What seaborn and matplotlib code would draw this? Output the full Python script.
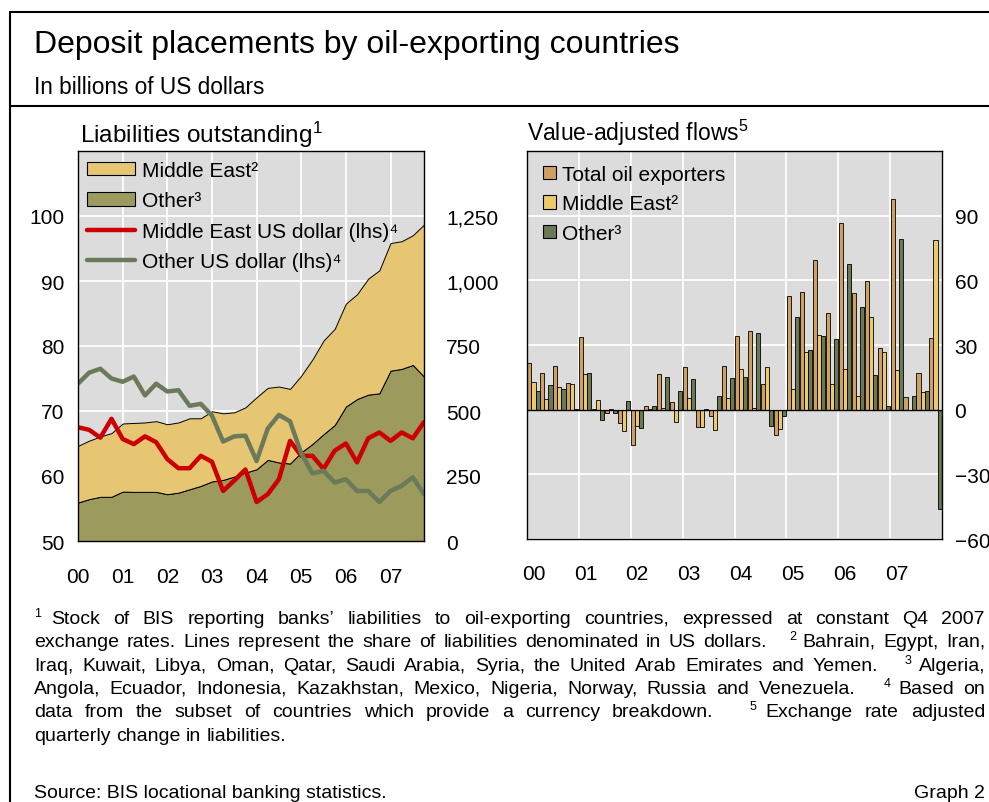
import matplotlib
matplotlib.use("Agg")

import numpy as np
import pandas as pd
import matplotlib.pyplot as plt
import seaborn as sns
from matplotlib.patches import Patch
from matplotlib.lines import Line2D
from matplotlib.ticker import FuncFormatter

# ---- data ----
years = ["00", "01", "02", "03", "04", "05", "06", "07"]
quarters = [f"{y}Q{q}" for y in years for q in range(1, 5)]

# stock of liabilities, billions USD (rhs of left panel)
other_stock = [148, 161, 170, 170, 190, 189, 189, 189, 180, 186, 199, 212, 229, 235, 248, 263,
               276, 312, 302, 298, 341, 373, 411, 446, 517, 546, 563, 568, 655, 662, 677, 632]
me_stock = [218, 225, 232, 245, 262, 265, 267, 272, 269, 270, 273, 260, 270, 256, 247, 251,
            277, 277, 292, 287, 295, 325, 360, 370, 396, 403, 446, 473, 491, 491, 499, 585]

# US dollar shares, per cent (lhs of left panel)
me_usd = [67.5, 67.1, 65.9, 68.8, 65.7, 64.9, 66.1, 65.2, 62.6, 61.2, 61.2, 63.1, 62.2, 57.7, 59.3, 61.0,
          56.0, 57.2, 59.5, 65.4, 63.1, 63.1, 61.1, 63.9, 65.0, 62.1, 65.8, 66.7, 65.4, 66.7, 65.8, 68.3]
other_usd = [74.2, 75.9, 76.5, 75.0, 74.5, 75.3, 72.4, 74.2, 73.0, 73.2, 70.8, 71.1, 69.3, 65.3, 66.1, 66.2,
             62.3, 67.3, 69.4, 68.4, 63.5, 60.4, 60.8, 59.0, 59.5, 57.7, 57.7, 56.0, 57.7, 58.5, 59.8, 57.2]

# value-adjusted flows, billions USD
flow_total = [21.7, 16.9, 20.4, 12.5, 33.6, 0.3, -1.5, -6.2, -16.3, 1.9, 16.6, 3.4, 19.8, -8.0, -2.8, 20.4,
              34.4, 36.7, 12.1, -11.6, 52.8, 54.6, 69.3, 44.9, 86.7, 54.3, 59.6, 28.6, 97.8, 5.9, 17.0, 33.1]
flow_me = [12.7, 5.1, 10.5, 11.9, 16.4, 4.6, 0.2, -10.0, -7.7, 0.2, 0.9, -5.6, 5.6, -8.0, -9.6, 5.6,
           19.0, 0.9, 19.7, -8.8, 9.4, 26.6, 34.7, 11.9, 18.9, 6.3, 43.2, 26.8, 18.3, -0.3, 8.4, 78.8]
flow_other = [8.5, 11.3, 9.6, 0.5, 17.2, -5.0, -1.5, 4.0, -8.4, 1.9, 15.0, 8.7, 14.1, 0.2, 6.3, 14.7,
              15.0, 35.4, -7.7, -3.1, 43.2, 27.7, 34.4, 32.8, 67.6, 47.8, 16.3, 1.7, 79.4, 6.2, 8.5, -46.0]

series_names = ["Total oil exporters", "Middle East²", "Other³"]

# ---- style ----
sns.set_style("white")
plt.rcParams["font.family"] = ["Liberation Sans", "DejaVu Sans"]
plt.rcParams["mathtext.fontset"] = "custom"
plt.rcParams["mathtext.rm"] = "Liberation Sans"
plt.rcParams["mathtext.it"] = "Liberation Sans:italic"
plt.rcParams["mathtext.bf"] = "Liberation Sans:bold"
for k in ["text.color", "axes.labelcolor", "xtick.color", "ytick.color"]:
    plt.rcParams[k] = "black"

bg = "#DCDCDC"
c_me_area, c_oth_area = "#E6C573", "#9C9A5C"
c_red, c_gray = "#CC0000", "#6B7A5A"
c_tot, c_me, c_oth = "#CFA064", "#EBC96E", "#6A7854"
FS = 15

W, H = 989, 803
fig = plt.figure(figsize=(W / 100, H / 100), dpi=100)


def fx(x):
    return x / W


def fy(y):
    return 1 - y / H


# frame lines
fig.add_artist(Line2D([fx(10), fx(10)], [0, fy(13)], color="black", lw=1.5))
fig.add_artist(Line2D([fx(10), 1], [fy(13), fy(13)], color="black", lw=1.5))
fig.add_artist(Line2D([fx(10), 1], [fy(107), fy(107)], color="black", lw=1.5))

fig.text(fx(34), fy(45), "Deposit placements by oil-exporting countries", fontsize=23, va="center")
fig.text(fx(34), fy(87), "In billions of US dollars", fontsize=16.3, va="center")

# ---- left panel: liabilities outstanding ----
idx = np.arange(len(quarters))
ax_l = fig.add_axes([fx(78), fy(542), fx(346), 390 / H])
ax_a = ax_l.twinx()
ax_l.set_zorder(ax_a.get_zorder() + 1)
ax_l.patch.set_visible(False)
ax_a.patch.set_visible(True)
ax_a.set_facecolor(bg)
ax_a.xaxis.set_visible(True)

ax_a.stackplot(idx, other_stock, me_stock, colors=[c_oth_area, c_me_area],
               edgecolor="black", linewidth=0.7)
sns.lineplot(x=idx, y=me_usd, ax=ax_l, color=c_red, linewidth=3.2)
sns.lineplot(x=idx, y=other_usd, ax=ax_l, color=c_gray, linewidth=3.2)

ax_l.set_xlim(0, 31)
ax_l.set_ylim(50, 110)
ax_a.set_ylim(0, 1500)
ax_l.set_yticks([50, 60, 70, 80, 90, 100])
ax_a.set_yticks([0, 250, 500, 750, 1000, 1250])
ax_a.yaxis.set_major_formatter(FuncFormatter(lambda v, p: f"{int(v):,}"))
ax_l.set_xticks(idx[::4])
ax_l.set_xticklabels(years)
ax_a.set_axisbelow(True)
ax_a.grid(True, color="white", linewidth=1.3)
ax_l.grid(False)
ax_a.tick_params(axis="x", labelbottom=False, length=0)
ax_a.tick_params(axis="y", length=0, labelsize=FS, pad=16)
ax_l.tick_params(axis="y", length=0, labelsize=FS, pad=10)
ax_l.tick_params(axis="x", length=0, labelsize=FS, pad=19)
for s in ax_a.spines.values():
    s.set_visible(False)
for s in ax_l.spines.values():
    s.set_visible(True)
    s.set_color("black")
    s.set_linewidth(1.0)

left_handles = [Patch(facecolor=c_me_area, edgecolor="black", linewidth=0.8),
                Patch(facecolor=c_oth_area, edgecolor="black", linewidth=0.8),
                Line2D([], [], color=c_red, linewidth=3.2),
                Line2D([], [], color=c_gray, linewidth=3.2)]
left_labels = ["Middle East²", "Other³",
               "Middle East US dollar (lhs)⁴", "Other US dollar (lhs)⁴"]
ax_l.legend(left_handles, left_labels, loc="upper left", frameon=False, fontsize=FS,
            bbox_to_anchor=(9 / 346, 1 - 10 / 390), borderaxespad=0, borderpad=0,
            handlelength=2.3, handleheight=0.63, handletextpad=0.35, labelspacing=0.55)

fig.text(fx(80), fy(135), "Liabilities outstanding$^{1}$", fontsize=17.5, va="center")

# ---- right panel: value-adjusted flows ----
flows = pd.DataFrame({
    "quarter": quarters * 3,
    "series": [series_names[0]] * 32 + [series_names[1]] * 32 + [series_names[2]] * 32,
    "value": flow_total + flow_me + flow_other,
})

ax_b = fig.add_axes([fx(527), fy(540), fx(415), 388 / H])
ax_b.set_facecolor(bg)
sns.barplot(data=flows, x="quarter", y="value", hue="series", hue_order=series_names,
            order=quarters, palette=[c_tot, c_me, c_oth], saturation=1, width=0.94,
            edgecolor="black", linewidth=0.6, errorbar=None, ax=ax_b, legend=False)
ax_b.set_xlim(-0.5, 31.5)
ax_b.set_ylim(-60, 120)
ax_b.set_yticks([-60, -30, 0, 30, 60, 90])
ax_b.set_xticks(idx[::4])
ax_b.set_xticklabels(years)
ax_b.set_xticks(np.arange(3.5, 31, 4), minor=True)
ax_b.set_xlabel("")
ax_b.set_ylabel("")
ax_b.yaxis.tick_right()
ax_b.set_axisbelow(True)
ax_b.grid(False)
ax_b.yaxis.grid(True, color="white", linewidth=1.3)
ax_b.xaxis.grid(True, which="minor", color="white", linewidth=1.3)
ax_b.axhline(0, color="black", linewidth=1.0, zorder=3)
ax_b.tick_params(axis="y", length=0, labelsize=FS, pad=9)
ax_b.tick_params(axis="x", which="both", length=0, labelsize=FS, pad=18)
for s in ax_b.spines.values():
    s.set_visible(True)
    s.set_color("black")
    s.set_linewidth(1.0)

right_handles = [Patch(facecolor=c, edgecolor="black", linewidth=0.8) for c in [c_tot, c_me, c_oth]]
ax_b.legend(right_handles, series_names, loc="upper left", frameon=False, fontsize=FS,
            bbox_to_anchor=(16 / 415, 1 - 14 / 388), borderaxespad=0, borderpad=0,
            handlelength=0.62, handleheight=0.62, handletextpad=0.3, labelspacing=0.5)

fig.text(fx(527), fy(133), "Value-adjusted flows$^{5}$", fontsize=16.5, va="center")

# ---- footnotes (justified) ----
foot = [
    ("^1 Stock of BIS reporting banks’ liabilities to oil-exporting countries, expressed at constant Q4 2007", True),
    ("exchange rates. Lines represent the share of liabilities denominated in US dollars. ^2 Bahrain, Egypt, Iran,", True),
    ("Iraq, Kuwait, Libya, Oman, Qatar, Saudi Arabia, Syria, the United Arab Emirates and Yemen. ^3 Algeria,", True),
    ("Angola, Ecuador, Indonesia, Kazakhstan, Mexico, Nigeria, Norway, Russia and Venezuela. ^4 Based on", True),
    ("data from the subset of countries which provide a currency breakdown. ^5 Exchange rate adjusted", True),
    ("quarterly change in liabilities.", False),
]
foot_base = [624, 647, 671, 694, 717, 741]
FFS = 14
renderer = fig.canvas.get_renderer()
x0, x1 = 34, 985
for (line, just), yb in zip(foot, foot_base):
    toks = line.split(" ")
    arts = []
    for t in toks:
        if t.startswith("^"):
            a = fig.text(0, fy(yb - 7), t[1:], fontsize=9, va="baseline")
        else:
            a = fig.text(0, fy(yb), t, fontsize=FFS, va="baseline")
        arts.append(a)
    widths = [a.get_window_extent(renderer).width for a in arts]
    weights = []
    for i in range(len(toks) - 1):
        if toks[i + 1].startswith("^"):
            weights.append(3.0)
        elif toks[i].startswith("^"):
            weights.append(0.8)
        else:
            weights.append(1.0)
    if just:
        unit = (x1 - x0 - sum(widths)) / sum(weights)
    else:
        unit = 0.278 * FFS * 100 / 72
    x = x0
    for i, a in enumerate(arts):
        a.set_x(fx(x))
        x += widths[i]
        if i < len(weights):
            x += unit * weights[i]

fig.text(fx(34), fy(798), "Source: BIS locational banking statistics.", fontsize=FFS, va="baseline")
fig.text(fx(985), fy(798), "Graph 2", fontsize=FFS, va="baseline", ha="right")

fig.savefig("out.png", dpi=100)
